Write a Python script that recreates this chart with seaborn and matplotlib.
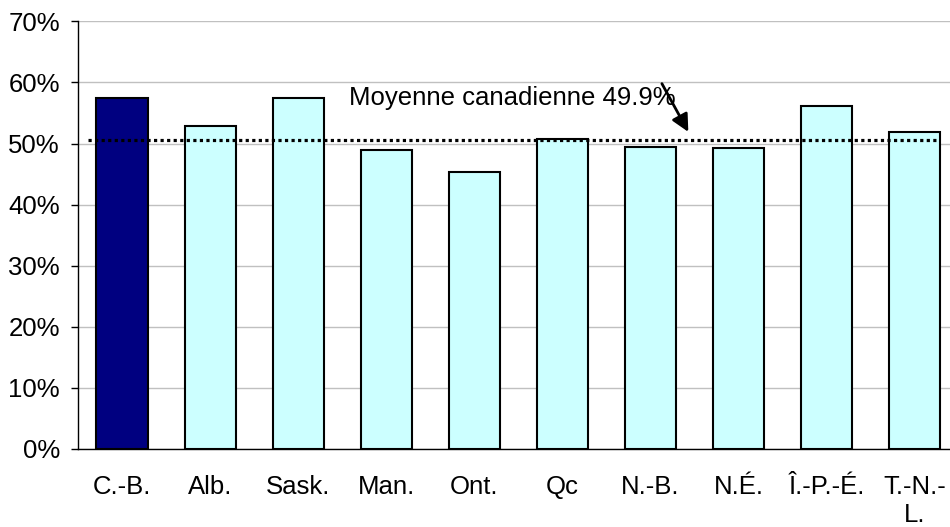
import matplotlib
matplotlib.use("Agg")
import matplotlib.pyplot as plt
import seaborn as sns
import pandas as pd

# Données
provinces = ["C.-B.", "Alb.", "Sask.", "Man.", "Ont.", "Qc", "N.-B.", "N.É.", "Î.-P.-É.", "T.-N.-\nL."]
valeurs = [57.5, 52.8, 57.4, 48.9, 45.3, 50.7, 49.5, 49.2, 56.1, 51.9]
couleurs = ["#000080"] + ["#CCFFFF"] * 9
moyenne_ligne = 50.5
moyenne_texte = "Moyenne canadienne 49.9%"
yticks = [0, 10, 20, 30, 40, 50, 60, 70]

sns.set_style("white")
plt.rcParams["font.family"] = ["Liberation Sans", "DejaVu Sans"]

df = pd.DataFrame({"province": provinces, "valeur": valeurs})

fig = plt.figure(figsize=(9.5, 5.27), dpi=100)
ax = fig.add_axes([78 / 950, 78 / 527, 880.7 / 950, 427.7 / 527])

sns.barplot(df, x="province", y="valeur", hue="province", palette=couleurs,
            legend=False, width=0.58, edgecolor="black", linewidth=1.5,
            saturation=1, ax=ax, zorder=3)

# Axes et grille
ax.set_xlim(-0.5, 9.5)
ax.set_ylim(0, 70)
ax.set_yticks(yticks, [f"{t}%" for t in yticks])
ax.yaxis.grid(True, color="#c0c0c0", linewidth=1, zorder=0)
ax.xaxis.grid(False)
ax.set_axisbelow(True)
ax.set_xlabel("")
ax.set_ylabel("")
for side in ["top", "right"]:
    ax.spines[side].set_visible(False)
for side in ["left", "bottom"]:
    ax.spines[side].set_color("black")
    ax.spines[side].set_linewidth(1)
ax.tick_params(axis="y", left=True, length=5, width=1, color="black",
               direction="out", pad=8, labelsize=18.5, labelcolor="black")
ax.tick_params(axis="x", bottom=False, length=0, pad=19, labelsize=18.5,
               labelcolor="black")

# Ligne de la moyenne canadienne
ax.plot([-0.39, 9.25], [moyenne_ligne, moyenne_ligne], color="black",
        linewidth=2.3, linestyle=(0, (1, 1.05)), dash_capstyle="butt", zorder=4)

ax.text(2.58, 56.3, moyenne_texte, fontsize=18.5, va="baseline", color="black", zorder=5)
ax.annotate("", xy=(6.43, 51.9), xytext=(6.13, 59.8),
            arrowprops=dict(arrowstyle="-|>", color="black", lw=2,
                            mutation_scale=26, shrinkA=0, shrinkB=0), zorder=5)

fig.savefig("out.png", dpi=100)
